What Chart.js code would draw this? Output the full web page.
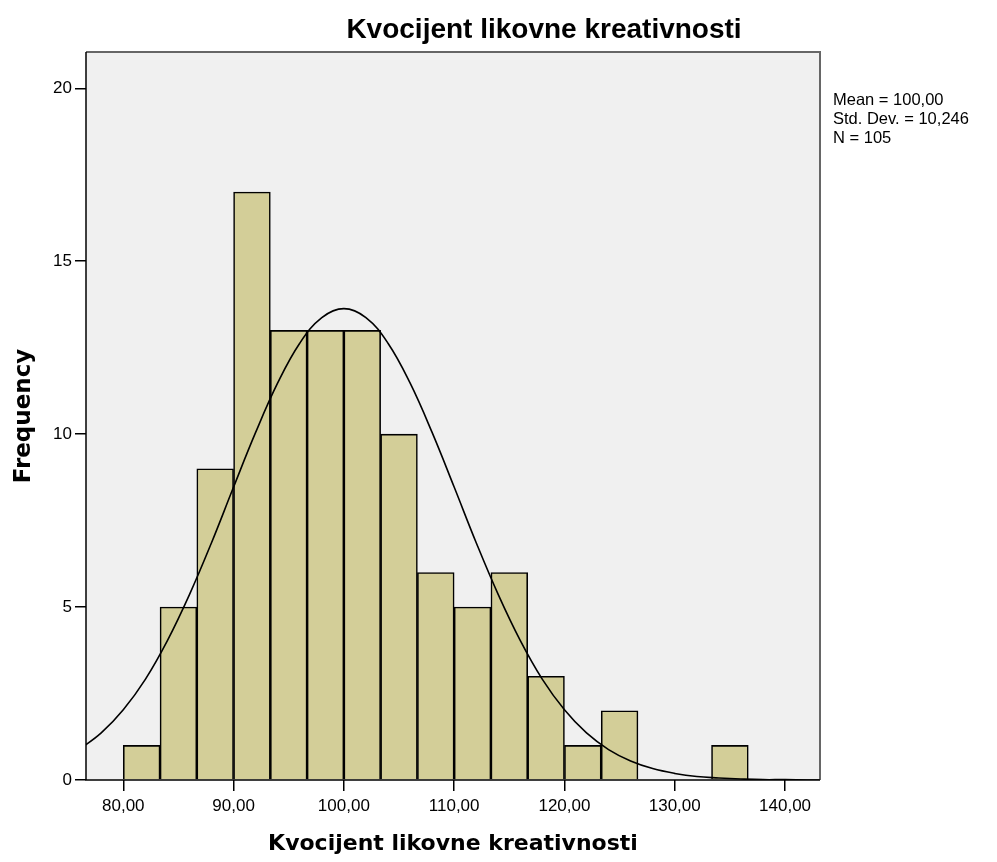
<!DOCTYPE html>
<html lang="hr">
<head>
    <meta charset="UTF-8">
    <title>Kvocijent likovne kreativnosti</title>
    <script src="https://cdn.jsdelivr.net/npm/chart.js"></script>
    <style>
        body { margin: 0; background: #ffffff; }
        #wrap { width: 997px; height: 862px; }
    </style>
</head>
<body>
<div id="wrap"><canvas id="histChart" width="997" height="862"></canvas></div>
<script>
// histogram bins (width 3.333, first bin starts at 80)
const binCenters = [81.667, 85, 88.333, 91.667, 95, 98.333, 101.667, 105, 108.333,
                    111.667, 115, 118.333, 121.667, 125, 128.333, 131.667, 135];
const frequencies = [1, 5, 9, 17, 13, 13, 13, 10, 6, 5, 6, 3, 1, 2, 0, 0, 1];

// normal curve
const curveX = [76, 78, 80, 82, 84, 86, 88, 90, 92, 94, 96, 98, 100, 102, 104, 106, 108, 110,
                112, 114, 116, 118, 120, 122, 124, 126, 128, 130, 132, 134, 136, 138, 140, 142, 144];
const curveY = [0.88, 1.36, 2.03, 2.91, 4.03, 5.36, 6.86, 8.47, 10.05, 11.48, 12.63, 13.37, 13.63,
                13.37, 12.63, 11.48, 10.05, 8.47, 6.86, 5.36, 4.03, 2.91, 2.03, 1.36, 0.88, 0.55,
                0.33, 0.19, 0.10, 0.06, 0.03, 0.01, 0.01, 0.0, 0.0];

const xTicks = [80, 90, 100, 110, 120, 130, 140];
const yTicks = [0, 5, 10, 15, 20];
const statLines = ['Mean = 100,00', 'Std. Dev. = 10,246', 'N = 105'];
const chartTitle = 'Kvocijent likovne kreativnosti';
const xTitle = 'Kvocijent likovne kreativnosti';
const yTitle = 'Frequency';

const FONT = '"Liberation Sans", Arial, sans-serif';
const WIDE = '"DejaVu Sans", Verdana, sans-serif';

const framePlugin = {
    id: 'frame',
    beforeDraw(chart) {
        const a = chart.chartArea, ctx = chart.ctx;
        ctx.save();
        ctx.fillStyle = '#f0f0f0';
        ctx.fillRect(a.left, a.top, a.right - a.left, a.bottom - a.top);
        ctx.restore();
    },
    afterDatasetsDraw(chart) {
        const a = chart.chartArea, ctx = chart.ctx;
        ctx.save();
        ctx.strokeStyle = '#666';
        ctx.lineWidth = 2;
        ctx.beginPath();
        ctx.moveTo(a.left, a.top);
        ctx.lineTo(a.right, a.top);
        ctx.lineTo(a.right, a.bottom);
        ctx.stroke();
        ctx.strokeStyle = '#000';
        ctx.lineWidth = 1.5;
        ctx.beginPath();
        ctx.moveTo(a.left, a.top);
        ctx.lineTo(a.left, a.bottom);
        ctx.lineTo(a.right, a.bottom);
        ctx.stroke();
        ctx.restore();
    },
    afterDraw(chart) {
        const ctx = chart.ctx;
        ctx.save();
        ctx.fillStyle = '#000';
        ctx.textAlign = 'center';
        ctx.textBaseline = 'middle';
        ctx.font = 'bold 28px ' + FONT;
        ctx.fillText(chartTitle, 544, 30);
        ctx.textAlign = 'left';
        ctx.textBaseline = 'top';
        ctx.font = '16.5px ' + FONT;
        statLines.forEach((t, i) => ctx.fillText(t, 833, 92 + i * 19));
        ctx.restore();
    }
};

new Chart(document.getElementById('histChart'), {
    data: {
        datasets: [
            {
                type: 'line',
                order: 0,
                data: curveX.map((x, i) => ({ x: x, y: curveY[i] })),
                borderColor: '#000',
                borderWidth: 1.6,
                pointRadius: 0,
                tension: 0.4,
                fill: false
            },
            {
                type: 'bar',
                order: 1,
                data: binCenters.map((x, i) => ({ x: x, y: frequencies[i] })),
                backgroundColor: '#d3ce98',
                borderColor: '#000',
                borderWidth: 1.6,
                barPercentage: 1,
                categoryPercentage: 1
            }
        ]
    },
    options: {
        responsive: false,
        animation: false,
        layout: { padding: { top: 52, right: 177, left: 0, bottom: 0 } },
        plugins: { legend: { display: false }, tooltip: { enabled: false } },
        scales: {
            x: {
                type: 'linear',
                offset: false,
                min: 76.62,
                max: 143.17,
                afterFit: s => { s.height = 82; },
                afterBuildTicks: s => { s.ticks = xTicks.map(v => ({ value: v })); },
                border: { display: false },
                grid: { offset: false, drawOnChartArea: false, drawTicks: true, tickLength: 11, color: '#000', lineWidth: 1.5 },
                ticks: {
                    color: '#000',
                    font: { family: FONT, size: 17 },
                    padding: 5,
                    maxRotation: 0,
                    callback: v => v.toFixed(2).replace('.', ',')
                },
                title: {
                    display: true,
                    text: xTitle,
                    color: '#000',
                    font: { family: WIDE, size: 22, weight: 'bold' },
                    padding: { top: 4, bottom: 5 }
                }
            },
            y: {
                min: 0,
                max: 21.05,
                afterFit: s => { s.width = 86; },
                afterBuildTicks: s => { s.ticks = yTicks.map(v => ({ value: v })); },
                border: { display: false },
                grid: { drawOnChartArea: false, drawTicks: true, tickLength: 11, color: '#000', lineWidth: 1.5 },
                ticks: {
                    color: '#000',
                    font: { family: FONT, size: 17 },
                    padding: 3
                },
                title: {
                    display: true,
                    text: yTitle,
                    color: '#000',
                    font: { family: WIDE, size: 23, weight: 'bold' },
                    padding: { top: 10, bottom: 4 }
                }
            }
        }
    },
    plugins: [framePlugin]
});
</script>
</body>
</html>
